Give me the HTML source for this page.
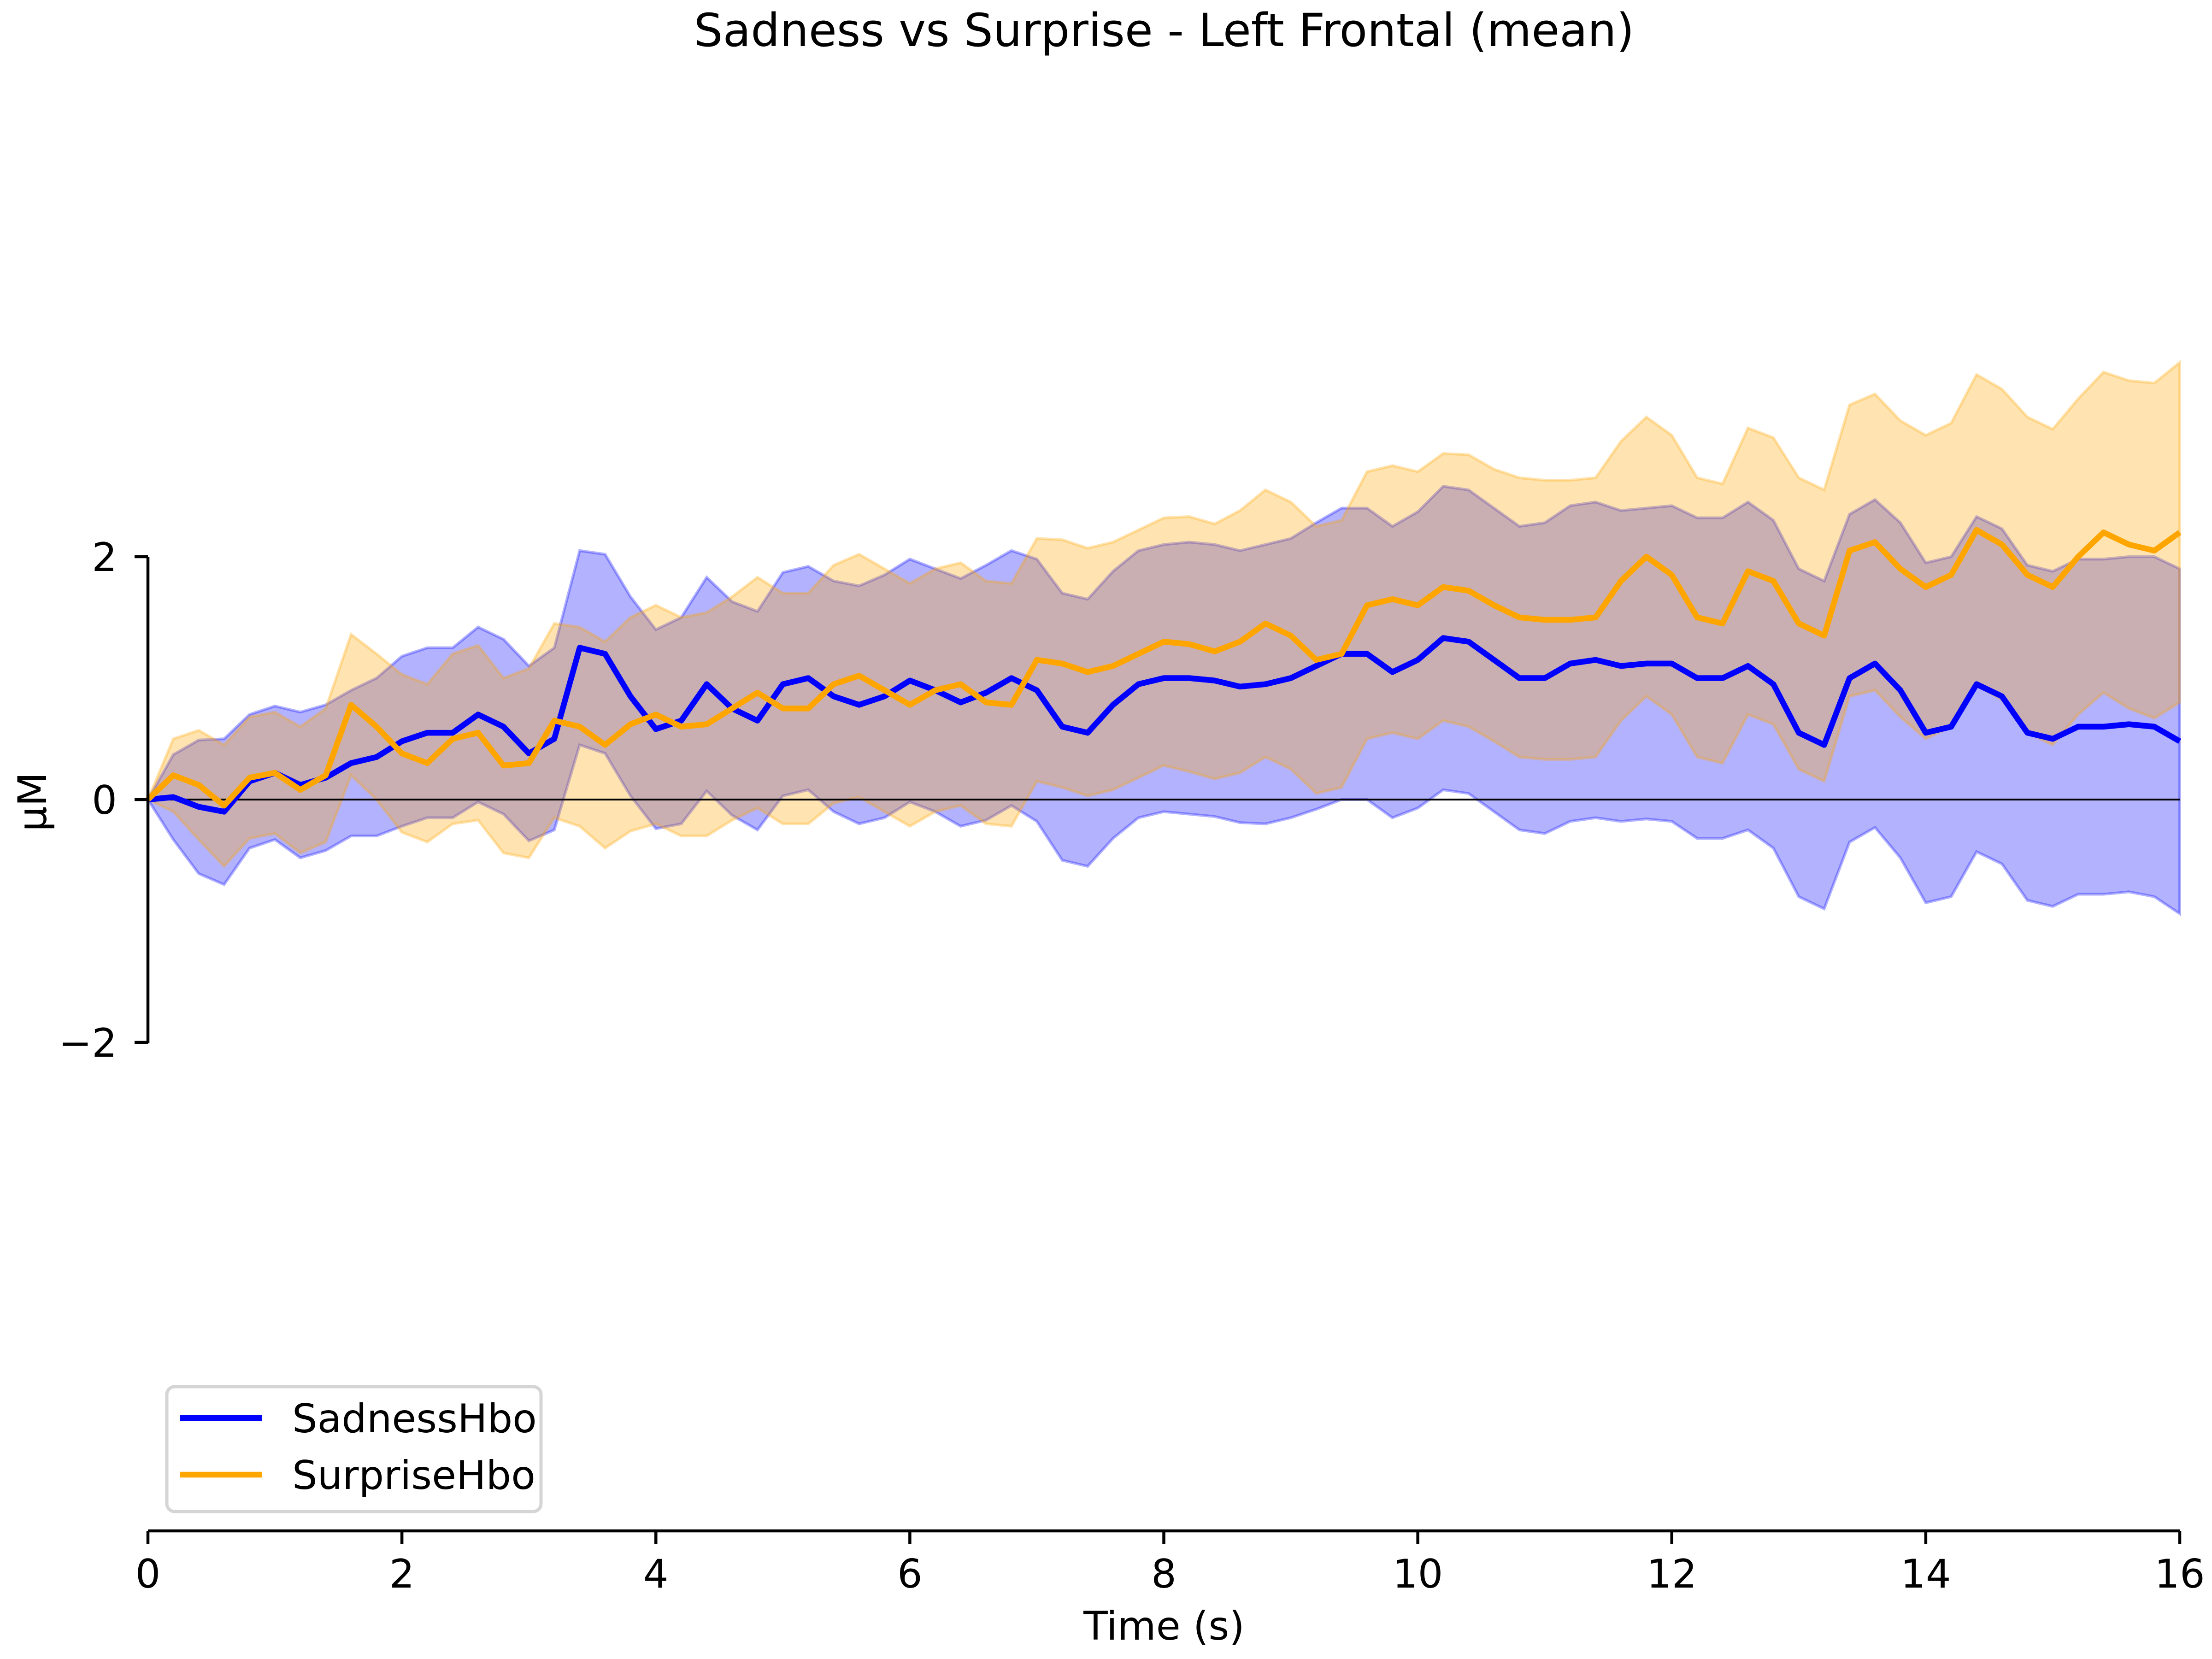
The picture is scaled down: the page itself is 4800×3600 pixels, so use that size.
<!DOCTYPE html>
<html><head><meta charset="utf-8"><style>
html,body{margin:0;padding:0;background:#fff}
svg{display:block}
text{font-family:"DejaVu Sans","Liberation Sans",sans-serif;fill:#000}
</style></head><body>
<svg id="chart" xmlns="http://www.w3.org/2000/svg" width="4800" height="3600" viewBox="0 0 4800 3600">
<rect width="4800" height="3600" fill="#fff"/>
<text x="2526" y="100" font-size="99" text-anchor="middle">Sadness vs Surprise - Left Frontal (mean)</text>
<g id="bands"></g>
<line x1="321" y1="1735" x2="4730" y2="1735" stroke="#000" stroke-width="4"/>
<g id="lines"></g>
<line x1="321" y1="1209" x2="321" y2="2264" stroke="#000" stroke-width="6.5"/>
<line x1="321" y1="3322" x2="4730" y2="3322" stroke="#000" stroke-width="6.5"/>
<g id="xticks"></g>
<g id="yticks"></g>
<text x="2526" y="3558" font-size="86" text-anchor="middle">Time (s)</text>
<text transform="translate(100,1740) rotate(-90)" font-size="86" text-anchor="middle">μM</text>
<g>
<rect x="362" y="3009" width="812" height="271" rx="17" fill="#fff" fill-opacity="0.8" stroke="#d5d5d5" stroke-width="7"/>
<line x1="390" y1="3077" x2="569" y2="3077" stroke="#0000ff" stroke-width="12.5"/>
<text x="634" y="3108" font-size="86">SadnessHbo</text>
<line x1="390" y1="3200" x2="569" y2="3200" stroke="#ffa500" stroke-width="12.5"/>
<text x="634" y="3231" font-size="86">SurpriseHbo</text>
</g>
</svg>
<script>
const times=[0,0.2,0.4,0.6,0.8,1,1.2,1.4,1.6,1.8,2,2.2,2.4,2.6,2.8,3,3.2,3.4,3.6,3.8,4,4.2,4.4,4.6,4.8,5,5.2,5.4,5.6,5.8,6,6.2,6.4,6.6,6.8,7,7.2,7.4,7.6,7.8,8,8.2,8.4,8.6,8.8,9,9.2,9.4,9.6,9.8,10,10.2,10.4,10.6,10.8,11,11.2,11.4,11.6,11.8,12,12.2,12.4,12.6,12.8,13,13.2,13.4,13.6,13.8,14,14.2,14.4,14.6,14.8,15,15.2,15.4,15.6,15.8,16];
const sadnessMean=[0,0.02,-0.06,-0.1,0.15,0.22,0.12,0.18,0.3,0.35,0.48,0.55,0.55,0.7,0.6,0.38,0.5,1.25,1.2,0.85,0.58,0.65,0.95,0.75,0.65,0.95,1.0,0.85,0.78,0.85,0.98,0.9,0.8,0.88,1.0,0.9,0.6,0.55,0.78,0.95,1.0,1.0,0.98,0.93,0.95,1.0,1.1,1.2,1.2,1.05,1.15,1.33,1.3,1.15,1.0,1.0,1.12,1.15,1.1,1.12,1.12,1.0,1.0,1.1,0.95,0.55,0.45,1.0,1.12,0.9,0.55,0.6,0.95,0.85,0.55,0.5,0.6,0.6,0.62,0.6,0.48];
const sadnessErr=[0,0.35,0.55,0.6,0.55,0.55,0.6,0.6,0.6,0.65,0.7,0.7,0.7,0.72,0.72,0.72,0.75,0.8,0.82,0.82,0.82,0.85,0.88,0.88,0.9,0.92,0.92,0.95,0.98,1.0,1.0,1.0,1.02,1.05,1.05,1.08,1.1,1.1,1.1,1.1,1.1,1.12,1.12,1.12,1.15,1.15,1.18,1.2,1.2,1.2,1.22,1.25,1.25,1.25,1.25,1.28,1.3,1.3,1.28,1.28,1.3,1.32,1.32,1.35,1.35,1.35,1.35,1.35,1.35,1.38,1.4,1.4,1.38,1.38,1.38,1.38,1.38,1.38,1.38,1.4,1.42];
const surpriseMean=[0,0.2,0.12,-0.05,0.18,0.22,0.08,0.2,0.78,0.6,0.38,0.3,0.5,0.55,0.28,0.3,0.65,0.6,0.45,0.62,0.7,0.6,0.62,0.75,0.88,0.75,0.75,0.95,1.02,0.9,0.78,0.9,0.95,0.8,0.78,1.15,1.12,1.05,1.1,1.2,1.3,1.28,1.22,1.3,1.45,1.35,1.15,1.2,1.6,1.65,1.6,1.75,1.72,1.6,1.5,1.48,1.48,1.5,1.8,2.0,1.85,1.5,1.45,1.88,1.8,1.45,1.35,2.05,2.12,1.9,1.75,1.85,2.22,2.1,1.85,1.75,2.0,2.2,2.1,2.05,2.2];
const surpriseErr=[0,0.3,0.45,0.5,0.5,0.5,0.52,0.55,0.58,0.6,0.65,0.65,0.7,0.72,0.72,0.78,0.8,0.82,0.85,0.88,0.9,0.9,0.92,0.92,0.95,0.95,0.95,0.98,1.0,1.0,1.0,1.0,1.0,1.0,1.0,1.0,1.02,1.02,1.02,1.02,1.02,1.05,1.05,1.08,1.1,1.1,1.1,1.1,1.1,1.1,1.1,1.1,1.12,1.12,1.15,1.15,1.15,1.15,1.15,1.15,1.15,1.15,1.15,1.18,1.18,1.2,1.2,1.2,1.22,1.22,1.25,1.25,1.28,1.28,1.3,1.3,1.3,1.32,1.35,1.38,1.4];
const xTickValues=[0,2,4,6,8,10,12,14,16];
const yTickValues=[-2,0,2];
const yTickLabels=["\u22122","0","2"];

const NS="http://www.w3.org/2000/svg";
function xs(t){return 321+t*(4730-321)/16;}
function ys(v){return 1735-v*263.5;}
function mk(tag,attrs){const e=document.createElementNS(NS,tag);for(const k in attrs)e.setAttribute(k,attrs[k]);return e;}
const bands=document.getElementById('bands'),lines=document.getElementById('lines');
function band(mean,err,color,name){
  let up=[],lo=[];
  for(let i=0;i<times.length;i++){up.push(xs(times[i])+','+ys(mean[i]+err[i]));lo.unshift(xs(times[i])+','+ys(mean[i]-err[i]));}
  const p=mk('polygon',{points:up.concat(lo).join(' '),fill:color,'fill-opacity':0.3,stroke:color,'stroke-opacity':0.3,'stroke-width':6});
  
  
  bands.appendChild(p);
}
function line(mean,color,name){
  const pts=times.map((t,i)=>xs(t)+','+ys(mean[i])).join(' ');
  const l=mk('polyline',{points:pts,fill:'none',stroke:color,'stroke-width':12.5,'stroke-linejoin':'round'});
  
  
  lines.appendChild(l);
}
band(sadnessMean,sadnessErr,'#0000ff','sadness-band');
band(surpriseMean,surpriseErr,'#ffa500','surprise-band');
line(sadnessMean,'#0000ff','sadness-line');
line(surpriseMean,'#ffa500','surprise-line');
const xt=document.getElementById('xticks');
xTickValues.forEach(v=>{
  const l=mk('line',{x1:xs(v),x2:xs(v),y1:3322,y2:3351,stroke:'#000','stroke-width':6.5});
  
  
  xt.appendChild(l);
  const tx=mk('text',{x:xs(v),y:3445,'font-size':86,'text-anchor':'middle'});
  
  
  tx.textContent=String(v);xt.appendChild(tx);
});
const yt=document.getElementById('yticks');
yTickValues.forEach((v,i)=>{
  const l=mk('line',{x1:292,x2:321,y1:ys(v),y2:ys(v),stroke:'#000','stroke-width':6.5});
  
  
  yt.appendChild(l);
  const tx=mk('text',{x:254,y:ys(v)+31,'font-size':86,'text-anchor':'end'});
  
  
  tx.textContent=yTickLabels[i];yt.appendChild(tx);
});
</script>
</body></html>
